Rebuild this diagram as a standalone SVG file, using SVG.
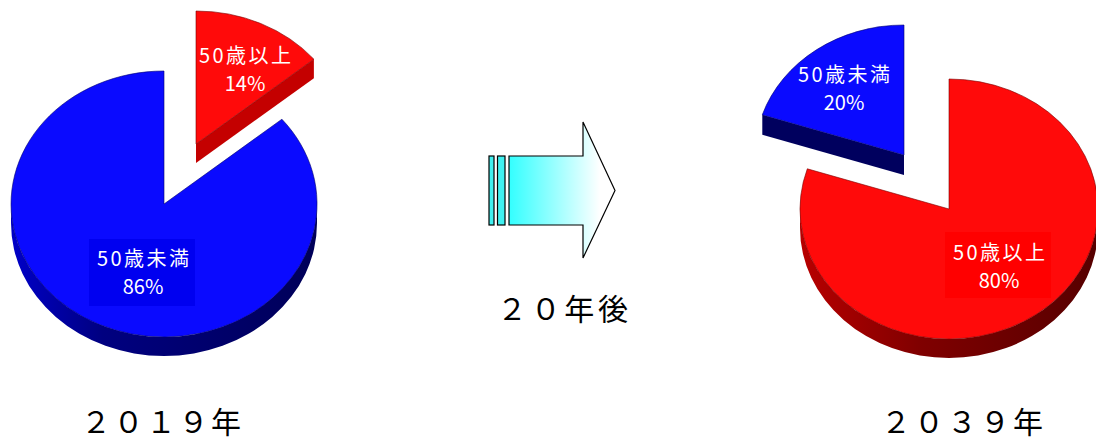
<svg xmlns="http://www.w3.org/2000/svg" width="1096" height="441" viewBox="0 0 1096 441">
<style>
.lbl{font-family:"Noto Sans CJK JP","Noto Sans CJK SC",sans-serif;font-size:20px;fill:#ffffff;text-anchor:middle}
.big{font-family:"Noto Sans CJK JP","Noto Sans CJK SC",sans-serif;font-size:30px;fill:#000000}
.blueTop{fill:#0A0AFF;stroke:#000070;stroke-width:1;stroke-opacity:0.6}
.redTop{fill:#FF0A0A;stroke:#7a0000;stroke-width:1;stroke-opacity:0.6}
.edge{stroke:#000000;stroke-width:1.2}
</style>
<defs>
<linearGradient id="blueWall" x1="0" y1="0" x2="1" y2="0">
<stop offset="0" stop-color="#0000C8"/>
<stop offset="0.3" stop-color="#000080"/>
<stop offset="1" stop-color="#000058"/>
</linearGradient>
<linearGradient id="redWall" x1="0" y1="0" x2="1" y2="0">
<stop offset="0" stop-color="#B80000"/>
<stop offset="0.4" stop-color="#800000"/>
<stop offset="1" stop-color="#560000"/>
</linearGradient>
<linearGradient id="arrowFill" gradientUnits="userSpaceOnUse" x1="509" y1="0" x2="600" y2="0">
<stop offset="0" stop-color="#33FFFF"/>
<stop offset="1" stop-color="#FFFFFF"/>
</linearGradient>
</defs>

<g id="pie2019-under50">
<path d="M317,204 A153,133 0 0 1 11,204 L11,223 A153,133 0 0 0 317,223 Z" fill="url(#blueWall)"/>
<path class="blueTop" d="M164,204 L281.9,119.2 A153,133 0 1 1 164,71 Z"/>
<rect x="89" y="239" width="106" height="67" fill="#0000F0"/>
<text class="lbl" x="143" y="266" textLength="92" lengthAdjust="spacing">50歳未満</text>
<text class="lbl" x="143" y="294">86%</text>
</g>

<g id="pie2019-over50">
<path d="M196,144 L313.9,59.2 L313.9,78.2 L196,163 Z" fill="#C40000"/>
<path class="redTop" d="M196,144 L196,11 A153,133 0 0 1 313.9,59.2 Z"/>
<text class="lbl" x="245" y="63" textLength="92" lengthAdjust="spacing">50歳以上</text>
<text class="lbl" x="245" y="91">14%</text>
</g>

<g id="pie2039-over50">
<path d="M1098,209 A149,130 0 0 1 800,209 L800,228 A149,130 0 0 0 1098,228 Z" fill="url(#redWall)"/>
<path class="redTop" d="M949,209 L949,79 A149,130 0 1 1 807.3,168.8 Z"/>
<rect x="945" y="232" width="106" height="66" fill="#FF0000"/>
<text class="lbl" x="999" y="260" textLength="92" lengthAdjust="spacing">50歳以上</text>
<text class="lbl" x="999" y="288">80%</text>
</g>

<g id="pie2039-under50">
<path d="M904,155 L762.3,114.8 L762.3,134.8 L904,175 Z" fill="#00005E"/>
<path class="blueTop" d="M904,155 L762.3,114.8 A149,130 0 0 1 904,25 Z"/>
<text class="lbl" x="844" y="82" textLength="92" lengthAdjust="spacing">50歳未満</text>
<text class="lbl" x="844" y="110">20%</text>
</g>

<g id="connectors">
<rect class="edge" x="489" y="156" width="5" height="69" fill="#40F0F0"/>
<rect class="edge" x="497.5" y="156" width="7.5" height="69" fill="#40F0F0"/>
<path class="edge" d="M509,156 L583,156 L583,122 L615,190.5 L583,258 L583,225 L509,225 Z" fill="url(#arrowFill)"/>
</g>

<g id="label-20years">
<text class="big" x="497" y="320" font-size="32" textLength="131" lengthAdjust="spacing">２０年後</text>
</g>
<g id="label-2019">
<text class="big" x="81" y="433" textLength="160" lengthAdjust="spacing">２０１９年</text>
</g>
<g id="label-2039">
<text class="big" x="881" y="433" textLength="162" lengthAdjust="spacing">２０３９年</text>
</g>
</svg>
